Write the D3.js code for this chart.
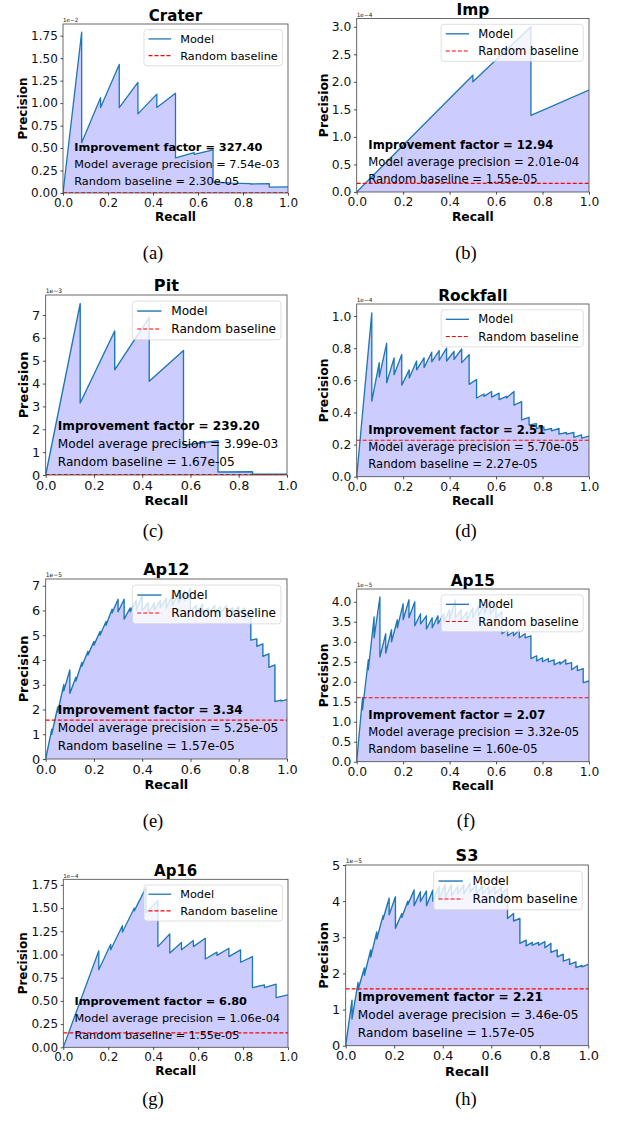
<!DOCTYPE html>
<html><head><meta charset="utf-8">
<script src="https://cdn.jsdelivr.net/npm/d3@7"></script>
<style>
body{margin:0;background:#fff}
svg{display:block}
</style>
</head><body>
<svg id="chart" width="621" height="1124" font-family="DejaVu Sans"></svg>
<script>
// ---------------- DATA ----------------
const panelNames = ["Crater","Imp","Pit","Rockfall","Ap12","Ap15","Ap16","S3"];
const captionLabels = ["(a)","(b)","(c)","(d)","(e)","(f)","(g)","(h)"];
const offsetExponents = [-2,-4,-3,-4,-5,-5,-4,-5];
const improvementFactors = [327.40, 12.94, 239.20, 2.51, 3.34, 2.07, 6.80, 2.21];
const averagePrecisions = [7.54e-3, 2.01e-4, 3.99e-3, 5.70e-5, 5.25e-5, 3.32e-5, 1.06e-4, 3.46e-5];
const randomBaselines = [2.30e-5, 1.55e-5, 1.67e-5, 2.27e-5, 1.57e-5, 1.60e-5, 1.55e-5, 1.57e-5];
const legendLabels = ["Model","Random baseline"];
const xTickLabels = ["0.0","0.2","0.4","0.6","0.8","1.0"];
const yTickLabels = [
  ["0.00","0.25","0.50","0.75","1.00","1.25","1.50","1.75"],
  ["0.0","0.5","1.0","1.5","2.0","2.5","3.0"],
  ["0","1","2","3","4","5","6","7"],
  ["0.0","0.2","0.4","0.6","0.8","1.0"],
  ["0","1","2","3","4","5","6","7"],
  ["0.0","0.5","1.0","1.5","2.0","2.5","3.0","3.5","4.0"],
  ["0.00","0.25","0.50","0.75","1.00","1.25","1.50","1.75"],
  ["0","1","2","3","4","5"]
];

// Precision (in units of the panel's offset exponent) at each recall step:
// "Peak" = value when the step is reached, "Drop" = value after the vertical fall.
const craterRecall = [0, 0.083, 0.167, 0.25, 0.333, 0.417, 0.5, 0.583, 0.667, 0.75, 0.833, 0.917, 1.0];
const craterPeak   = [0, 1.79, 1.06, 1.43, 1.23, 1.10, 1.11, 0.45, 0.48, 0.11, 0.105, 0.105, 0.068];
const craterDrop   = [null, 0.56, 0.95, 0.95, 0.88, 0.95, 0.39, 0.43, 0.12, null, 0.10, 0.065, null];

const impRecall = [0, 0.5, 0.75, 1.0];
const impPeak   = [0, 2.12, 3.0, 1.85];
const impDrop   = [null, 2.0, 1.39, null];

const pitRecall = [0, 0.143, 0.286, 0.429, 0.571, 0.714, 0.857, 1.0];
const pitPeak   = [0, 7.5, 6.3, 6.9, 5.45, 1.5, 0.14, 0.03];
const pitDrop   = [null, 3.15, 4.6, 4.1, 1.3, 0.13, 0.03, null];

const rockfallRecall = [0, 0.065, 0.097, 0.129, 0.161, 0.194, 0.226, 0.258, 0.290, 0.323, 0.355, 0.387, 0.419, 0.452, 0.484, 0.516, 0.548, 0.581, 0.613, 0.645, 0.677, 0.710, 0.742, 0.774, 0.806, 0.839, 0.871, 0.903, 0.935, 0.968, 1.0];
const rockfallPeak   = [0, 1.02, 0.71, 0.83, 0.74, 0.76, 0.665, 0.72, 0.74, 0.775, 0.785, 0.80, 0.78, 0.795, 0.76, 0.605, 0.515, 0.53, 0.52, 0.50, 0.53, 0.467, 0.37, 0.33, 0.31, 0.30, 0.30, 0.275, 0.275, 0.26, 0.253];
const rockfallDrop   = [null, 0.47, 0.62, 0.585, 0.635, 0.57, 0.615, 0.665, 0.68, 0.715, 0.725, 0.72, 0.73, 0.71, 0.575, 0.49, 0.50, 0.495, 0.48, 0.49, 0.445, 0.353, 0.322, 0.30, 0.29, 0.285, 0.265, 0.265, 0.245, 0.24, null];

const ap12Recall = [0, 0.025, 0.05, 0.075, 0.1, 0.125, 0.15, 0.175, 0.2, 0.225, 0.25, 0.275, 0.3, 0.325, 0.35, 0.375, 0.4, 0.425, 0.45, 0.475, 0.5, 0.525, 0.55, 0.575, 0.6, 0.625, 0.65, 0.675, 0.7, 0.725, 0.75, 0.775, 0.8, 0.825, 0.85, 0.875, 0.9, 0.925, 0.95, 0.975, 1.0];
const ap12Peak   = [0, 1.2, 2.1, 3.0, 3.6, 3.3, 3.9, 4.35, 4.75, 5.15, 5.55, 6.05, 6.45, 6.45, 6.1, 6.4, 6.6, 6.3, 6.3, 6.4, 6.5, 6.6, 6.7, 6.8, 6.9, 6.2, 6.25, 6.1, 6.2, 6.15, 6.2, 6.1, 6.15, 6.1, 5.8, 4.85, 4.65, 4.25, 3.8, 2.38, 2.4];
const ap12Drop   = [null, 1.0, 1.9, 2.75, 2.65, 3.15, 3.75, 4.2, 4.6, 5.0, 5.4, 5.9, 5.95, 5.65, 5.95, 6.0, 6.0, 5.9, 6.0, 6.1, 6.1, 6.2, 6.3, 6.4, 6.0, 5.9, 5.95, 5.9, 5.95, 5.9, 5.95, 5.9, 5.9, 5.7, 4.8, 4.55, 4.15, 3.7, 2.32, 2.34, null];

const ap15Recall = [0, 0.025, 0.05, 0.075, 0.1, 0.125, 0.15, 0.175, 0.2, 0.225, 0.25, 0.275, 0.3, 0.325, 0.35, 0.375, 0.4, 0.425, 0.45, 0.475, 0.5, 0.525, 0.55, 0.575, 0.6, 0.625, 0.65, 0.675, 0.7, 0.725, 0.75, 0.775, 0.8, 0.825, 0.85, 0.875, 0.9, 0.925, 0.95, 0.975, 1.0];
const ap15Peak   = [0, 1.6, 2.55, 3.62, 4.12, 3.2, 3.3, 3.55, 3.95, 4.05, 4.0, 3.7, 3.65, 3.6, 3.65, 3.7, 3.8, 4.05, 3.8, 3.75, 3.85, 3.9, 3.95, 4.05, 3.9, 3.75, 3.3, 3.25, 3.3, 3.2, 3.15, 2.65, 2.6, 2.58, 2.55, 2.5, 2.55, 2.48, 2.4, 2.33, 2.02];
const ap15Drop   = [null, 1.3, 2.3, 3.1, 2.62, 2.72, 3.0, 3.35, 3.55, 3.6, 3.4, 3.45, 3.32, 3.35, 3.45, 3.5, 3.55, 3.6, 3.55, 3.55, 3.6, 3.65, 3.7, 3.7, 3.6, 3.2, 3.15, 3.15, 3.1, 3.1, 2.58, 2.52, 2.5, 2.5, 2.42, 2.44, 2.44, 2.3, 2.28, 1.98, null];

const ap16Recall = [0, 0.158, 0.211, 0.263, 0.316, 0.368, 0.421, 0.474, 0.526, 0.579, 0.632, 0.684, 0.737, 0.789, 0.842, 0.895, 0.947, 1.0];
const ap16Peak   = [0, 1.04, 1.11, 1.31, 1.50, 1.72, 1.58, 1.22, 1.13, 1.15, 1.175, 1.025, 1.067, 1.05, 0.977, 0.672, 0.68, 0.564];
const ap16Drop   = [null, 0.835, 1.05, 1.24, 1.47, 1.45, 1.085, 1.015, 1.05, 1.085, 0.952, 0.99, 0.977, 0.916, 0.643, 0.643, 0.535, null];

const s3Recall = [0, 0.026, 0.051, 0.077, 0.103, 0.128, 0.154, 0.179, 0.205, 0.231, 0.256, 0.282, 0.308, 0.333, 0.359, 0.385, 0.410, 0.436, 0.462, 0.487, 0.513, 0.538, 0.564, 0.590, 0.615, 0.641, 0.667, 0.692, 0.718, 0.744, 0.769, 0.795, 0.821, 0.846, 0.872, 0.897, 0.923, 0.949, 0.974, 1.0];
const s3Peak   = [0, 1.26, 1.75, 2.15, 2.65, 3.15, 3.6, 4.08, 4.12, 3.65, 4.0, 4.31, 4.26, 4.28, 4.3, 4.4, 4.45, 4.45, 4.4, 4.45, 4.5, 4.45, 4.42, 4.4, 4.4, 4.38, 4.35, 3.66, 3.52, 2.92, 2.86, 2.86, 2.88, 2.83, 2.65, 2.53, 2.40, 2.32, 2.22, 2.25];
const s3Drop   = [null, 0.74, 1.55, 1.95, 2.45, 2.95, 3.5, 3.62, 3.25, 3.55, 3.9, 3.87, 3.99, 3.87, 4.0, 4.05, 4.1, 4.15, 4.2, 4.2, 4.25, 4.2, 4.2, 4.2, 4.2, 4.2, 3.52, 3.45, 2.83, 2.76, 2.78, 2.78, 2.71, 2.58, 2.46, 2.34, 2.25, 2.16, 2.18, null];

const curves = [
  [craterRecall, craterPeak, craterDrop],
  [impRecall, impPeak, impDrop],
  [pitRecall, pitPeak, pitDrop],
  [rockfallRecall, rockfallPeak, rockfallDrop],
  [ap12Recall, ap12Peak, ap12Drop],
  [ap15Recall, ap15Peak, ap15Drop],
  [ap16Recall, ap16Peak, ap16Drop],
  [s3Recall, s3Peak, s3Drop]
];

// ---------------- LAYOUT ----------------
const layout = [
  {x0:63,    x1:288,   y0:24,    y1:193,    ymax:1.88,  s:1.0,   cx:153, cy:259},
  {x0:356.7, x1:589,   y0:18.5,  y1:192,    ymax:3.15,  s:1.027, cx:466, cy:259},
  {x0:45.7,  x1:287,   y0:295,   y1:475,    ymax:7.875, s:1.075, cx:153, cy:537},
  {x0:356.7, x1:589,   y0:304,   y1:476.7,  ymax:1.075, s:1.027, cx:466, cy:537},
  {x0:45.7,  x1:287,   y0:579,   y1:759,    ymax:7.27,  s:1.075, cx:153, cy:827},
  {x0:356.7, x1:589,   y0:589,   y1:761.7,  ymax:4.32,  s:1.027, cx:466, cy:827},
  {x0:63.3,  x1:288,   y0:879.3, y1:1047.3, ymax:1.81,  s:1.0,   cx:153, cy:1105},
  {x0:345.7, x1:588.3, y0:865,   y1:1045.7, ymax:5.0,   s:1.075, cx:466, cy:1105}
];

const C0 = "#1f77b4";
const FILL = "#ccccff";
const RED = "#ff0000";
const SANS = "'DejaVu Sans', sans-serif";
const SERIF = "'Liberation Serif', 'DejaVu Serif', serif";
const svg = d3.select("#chart");

function sci(v){
  const e = Math.floor(Math.log10(v));
  const m = v / Math.pow(10, e);
  const sign = e < 0 ? "-" : "+";
  const ae = Math.abs(e);
  return m.toFixed(2) + "e" + sign + (ae < 10 ? "0" + ae : ae);
}

layout.forEach((L, i) => {
  const s = L.s;
  const g = svg.append("g").style("font-family", SANS);
  const x = d3.scaleLinear().domain([0, 1]).range([L.x0, L.x1]);
  const y = d3.scaleLinear().domain([0, L.ymax]).range([L.y1, L.y0]);

  const [rec, peak, drop] = curves[i];
  const pts = [];
  rec.forEach((r, k) => {
    pts.push([r, peak[k]]);
    if (drop[k] !== null) pts.push([r, drop[k]]);
  });

  const clipId = "clip" + i;
  svg.append("clipPath").attr("id", clipId).append("rect")
    .attr("x", L.x0).attr("y", L.y0).attr("width", L.x1 - L.x0).attr("height", L.y1 - L.y0);

  const plot = g.append("g").attr("clip-path", `url(#${clipId})`);
  plot.append("path").datum(pts)
    .attr("fill", FILL)
    .attr("d", d3.area().x(d => x(d[0])).y0(y(0)).y1(d => y(d[1])));
  plot.append("path").datum(pts)
    .attr("fill", "none").attr("stroke", C0).attr("stroke-width", 1.3 * s)
    .attr("stroke-linejoin", "round")
    .attr("d", d3.line().x(d => x(d[0])).y(d => y(d[1])));
  const baseY = randomBaselines[i] / Math.pow(10, offsetExponents[i]);
  plot.append("line")
    .attr("x1", x(0)).attr("x2", x(1)).attr("y1", y(baseY)).attr("y2", y(baseY))
    .attr("stroke", RED).attr("stroke-width", 1.2)
    .attr("stroke-dasharray", "4,2");

  // frame
  g.append("rect").attr("x", L.x0).attr("y", L.y0)
    .attr("width", L.x1 - L.x0).attr("height", L.y1 - L.y0)
    .attr("fill", "none").attr("stroke", "#444").attr("stroke-width", 0.8);

  // axes
  const tickFs = 12 * s;
  const yLabels = yTickLabels[i];
  const yAxis = d3.axisLeft(y).tickValues(yLabels.map(Number))
    .tickFormat((d, k) => yLabels[k]).tickSize(2.6 * s).tickPadding(2.6 * s);
  const ya = g.append("g").attr("transform", `translate(${L.x0},0)`).call(yAxis);
  const xAxis = d3.axisBottom(x).tickValues(xTickLabels.map(Number))
    .tickFormat((d, k) => xTickLabels[k]).tickSize(2.6 * s).tickPadding(2.6 * s);
  const xa = g.append("g").attr("transform", `translate(0,${L.y1})`).call(xAxis);
  [ya, xa].forEach(a => {
    a.attr("font-family", null).attr("font-size", null);
    a.select(".domain").remove();
    a.selectAll("line").attr("stroke", "#222").attr("stroke-width", 0.8);
    a.selectAll("text").style("font-family", SANS).style("font-size", tickFs + "px").attr("fill", "#111");
  });

  // max tick label width
  let maxW = 0;
  ya.selectAll("text").each(function(){ maxW = Math.max(maxW, this.getComputedTextLength()); });
  const labFs = 12 * s;
  const ylx = L.x0 - 5.2 * s - maxW - 4 * s;
  g.append("text")
    .attr("transform", `translate(${ylx},${(L.y0 + L.y1) / 2}) rotate(-90)`)
    .attr("text-anchor", "middle").attr("font-weight", "bold").attr("font-size", labFs)
    .text("Precision");
  g.append("text")
    .attr("x", (L.x0 + L.x1) / 2).attr("y", L.y1 + 28 * s)
    .attr("text-anchor", "middle").attr("font-weight", "bold").attr("font-size", labFs)
    .text("Recall");

  // title
  g.append("text")
    .attr("x", (L.x0 + L.x1) / 2).attr("y", L.y0 - 3.3 * s)
    .attr("text-anchor", "middle").attr("font-weight", "bold").attr("font-size", 15 * s)
    .text(panelNames[i]);

  // offset text
  g.append("text")
    .attr("x", L.x0).attr("y", L.y0 - 1.6 * s)
    .attr("font-size", 5.6 * s).attr("fill", "#222")
    .text("1e\u2212" + Math.abs(offsetExponents[i]));

  // annotations
  const fs = 11.3 * s;
  const h = L.y1 - L.y0;
  const ax = x(0.05);
  const ann = [
    {t: "Improvement factor = " + improvementFactors[i].toFixed(2), b: true, f: 0.25},
    {t: "Model average precision = " + sci(averagePrecisions[i]), b: false, f: 0.15},
    {t: "Random baseline = " + sci(randomBaselines[i]), b: false, f: 0.05}
  ];
  ann.forEach(a => {
    g.append("text").attr("x", ax).attr("y", L.y1 - a.f * h)
      .attr("font-size", fs).attr("font-weight", a.b ? "bold" : "normal")
      .attr("fill", "#000").text(a.t);
  });

  // legend
  const lg = g.append("g");
  const tmp = lg.append("text").attr("font-size", fs).text(legendLabels[1]);
  const tw = tmp.node().getComputedTextLength();
  tmp.remove();
  const bw = 0.8 * fs + 2.0 * fs + 0.8 * fs + tw;
  const bh = 3.19 * fs;
  const bx = L.x1 - 0.5 * fs - bw;
  const by = L.y0 + 0.5 * fs;
  lg.append("rect").attr("x", bx).attr("y", by).attr("width", bw).attr("height", bh)
    .attr("rx", 0.25 * fs).attr("fill", "#fff").attr("fill-opacity", 0.8)
    .attr("stroke", "#cccccc").attr("stroke-opacity", 0.8).attr("stroke-width", 0.8);
  const rows = [by + 0.82 * fs, by + 2.3 * fs];
  lg.append("line").attr("x1", bx + 0.4 * fs).attr("x2", bx + 2.4 * fs)
    .attr("y1", rows[0]).attr("y2", rows[0]).attr("stroke", C0).attr("stroke-width", 1.3 * s);
  lg.append("line").attr("x1", bx + 0.4 * fs).attr("x2", bx + 2.4 * fs)
    .attr("y1", rows[1]).attr("y2", rows[1]).attr("stroke", RED).attr("stroke-width", 1.2)
    .attr("stroke-dasharray", "4,2");
  legendLabels.forEach((lab, k) => {
    lg.append("text").attr("x", bx + 3.2 * fs).attr("y", rows[k]).attr("dy", "0.36em")
      .attr("font-size", fs).attr("fill", "#000").text(lab);
  });

  // caption
  svg.append("text").attr("x", L.cx).attr("y", L.cy)
    .attr("text-anchor", "middle")
    .style("font-family", SERIF).style("font-size", "18.5px")
    .attr("fill", "#000")
    .text(captionLabels[i]);
});
</script>
</body></html>
